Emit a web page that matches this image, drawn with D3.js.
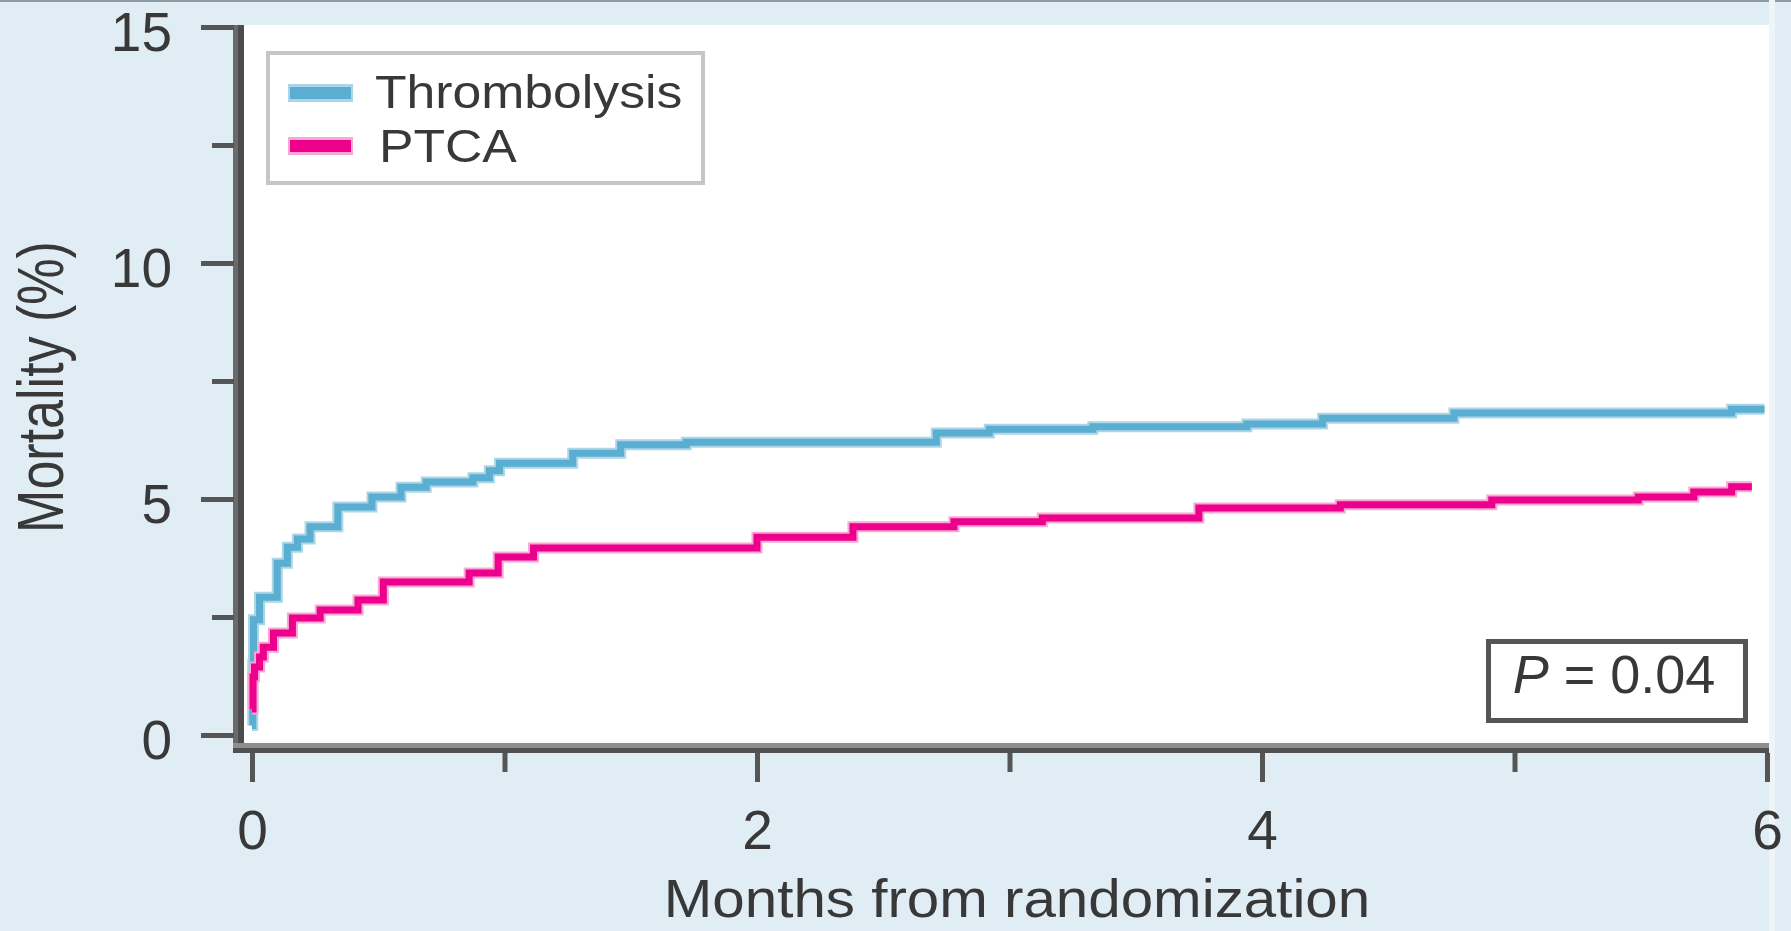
<!DOCTYPE html>
<html>
<head>
<meta charset="utf-8">
<script src="https://cdn.jsdelivr.net/npm/d3@7"></script>
<style>
  html, body { margin: 0; padding: 0; background: #e0edf5; }
  svg { display: block; }
  text { font-family: "Liberation Sans", Arial, Helvetica, sans-serif; fill: #383838; }
</style>
</head>
<body>
<svg id="chart" width="1791" height="931"></svg>
<script>
// ---- data ----
const seriesNames = ["Thrombolysis", "PTCA"];
const thrombolysisMonths = [0, 0.003, 0.006, 0.03, 0.10, 0.14, 0.18, 0.23, 0.34, 0.475, 0.59, 0.69, 0.875, 0.94, 0.98, 1.27, 1.46, 1.72, 2.71, 2.92, 3.33, 3.94, 4.24, 4.76, 5.86, 5.99];
const thrombolysisMortality = [0.2, 1.5, 2.44, 2.92, 3.64, 3.98, 4.15, 4.41, 4.83, 5.04, 5.25, 5.36, 5.45, 5.6, 5.76, 5.97, 6.15, 6.2, 6.4, 6.48, 6.53, 6.59, 6.71, 6.82, 6.9, 6.9];
const ptcaMonths = [0, 0.004, 0.01, 0.03, 0.045, 0.085, 0.16, 0.27, 0.42, 0.52, 0.86, 0.975, 1.115, 2.0, 2.38, 2.78, 3.13, 3.75, 4.31, 4.91, 5.49, 5.71, 5.86, 5.94];
const ptcaMortality = [0.55, 1.23, 1.44, 1.65, 1.86, 2.16, 2.48, 2.65, 2.86, 3.24, 3.43, 3.77, 3.96, 4.19, 4.41, 4.52, 4.6, 4.81, 4.88, 4.98, 5.04, 5.15, 5.26, 5.26];
const yMajorTicks = [0, 5, 10, 15];
const yMinorTicks = [2.5, 7.5, 12.5];
const xMajorTicks = [0, 2, 4, 6];
const xMinorTicks = [1, 3, 5];
const xTitle = "Months from randomization";
const yTitle = "Mortality (%)";
const pValueLabel = "0.04";

// ---- layout ----
const svg = d3.select("#chart");
const x = d3.scaleLinear().domain([0, 6]).range([252, 1767]);
const y = d3.scaleLinear().domain([0, 15]).range([735, 27]);
const colors = { "Thrombolysis": "#5aaed1", "PTCA": "#ec008c" };
const halos = { "Thrombolysis": "#acd6e8", "PTCA": "#f6aad3" };

// top border line & right strip
svg.append("rect").attr("x", 0).attr("y", 0).attr("width", 1791).attr("height", 2).attr("fill", "#8f9ba3");
svg.append("rect").attr("x", 1769).attr("y", 0).attr("width", 6).attr("height", 931).attr("fill", "#edf5f9");

// plot area
svg.append("rect").attr("x", 243).attr("y", 25).attr("width", 1769 - 243).attr("height", 745 - 25).attr("fill", "#ffffff");

// curves
const line = d3.line().x(d => x(d[0])).y(d => y(d[1])).curve(d3.curveStepAfter);
const series = [
  { name: "Thrombolysis", pts: d3.zip(thrombolysisMonths, thrombolysisMortality) },
  { name: "PTCA", pts: d3.zip(ptcaMonths, ptcaMortality) }
];
series.forEach(s => {
  svg.append("path").attr("d", line(s.pts)).attr("fill", "none")
    .attr("stroke", halos[s.name]).attr("stroke-width", 11);
  svg.append("path").attr("d", line(s.pts)).attr("fill", "none")
    .attr("stroke", colors[s.name]).attr("stroke-width", 7);
});

// axis lines (two-tone)
svg.append("rect").attr("x", 233).attr("y", 25).attr("width", 11).attr("height", 753 - 25).attr("fill", "#6a6a6a");
svg.append("rect").attr("x", 238).attr("y", 25).attr("width", 6).attr("height", 753 - 25).attr("fill", "#4c4c4c");
svg.append("rect").attr("x", 233).attr("y", 743).attr("width", 1769 - 233).attr("height", 5).attr("fill", "#8e8e8e");
svg.append("rect").attr("x", 233).attr("y", 748).attr("width", 1769 - 233).attr("height", 5).attr("fill", "#505050");

function styleAxis(g) {
  g.select(".domain").remove();
  g.selectAll(".tick line").attr("stroke", "#555").attr("stroke-width", 5);
  g.selectAll(".tick text").attr("fill", "#383838").style("font-size", "55px")
    .style("font-family", "'Liberation Sans', Arial, sans-serif");
}

// y axis
svg.append("g").attr("transform", "translate(234,0)")
  .call(d3.axisLeft(y).tickValues(yMajorTicks).tickSize(33).tickPadding(29).tickFormat(d3.format("d")))
  .call(styleAxis)
  .call(g => g.selectAll(".tick text").attr("dy", "0.42em"));
svg.append("g").attr("transform", "translate(234,0)")
  .call(d3.axisLeft(y).tickValues(yMinorTicks).tickSize(22).tickFormat(""))
  .call(styleAxis);

// x axis
svg.append("g").attr("transform", "translate(0,753)")
  .call(d3.axisBottom(x).tickValues(xMajorTicks).tickSize(29).tickPadding(28).tickFormat(d3.format("d")))
  .call(styleAxis);
svg.append("g").attr("transform", "translate(0,753)")
  .call(d3.axisBottom(x).tickValues(xMinorTicks).tickSize(19).tickFormat(""))
  .call(styleAxis);

// axis titles
svg.append("text").attr("transform", "translate(1017,917) scale(1.08,1)")
  .attr("text-anchor", "middle").style("font-size", "54px").text(xTitle);
svg.append("text").attr("transform", "translate(63,387) scale(1.25,1) rotate(-90)")
  .attr("text-anchor", "middle").style("font-size", "52px").text(yTitle);

// legend
svg.append("rect").attr("x", 268).attr("y", 53).attr("width", 435).attr("height", 130)
  .attr("fill", "#fff").attr("stroke", "#c6c6c6").attr("stroke-width", 4);
const legendRows = [
  { name: seriesNames[0], ly: 93, tx: 375, ty: 108 },
  { name: seriesNames[1], ly: 146, tx: 379, ty: 162 }
];
legendRows.forEach(r => {
  svg.append("line").attr("x1", 288).attr("x2", 353).attr("y1", r.ly).attr("y2", r.ly)
    .attr("stroke", halos[r.name]).attr("stroke-width", 18);
  svg.append("line").attr("x1", 290).attr("x2", 351).attr("y1", r.ly).attr("y2", r.ly)
    .attr("stroke", colors[r.name]).attr("stroke-width", 12);
  svg.append("text").attr("transform", `translate(${r.tx},${r.ty}) scale(1.1,1)`)
    .style("font-size", "47px").text(r.name);
});

// P value box
svg.append("rect").attr("x", 1488.5).attr("y", 641.5).attr("width", 257).attr("height", 79)
  .attr("fill", "#fff").attr("stroke", "#555").attr("stroke-width", 5);
const pt = svg.append("text").attr("x", 1614).attr("y", 693).attr("text-anchor", "middle").style("font-size", "54px");
pt.append("tspan").style("font-style", "italic").text("P");
pt.append("tspan").text(" = " + pValueLabel);
</script>
</body>
</html>
